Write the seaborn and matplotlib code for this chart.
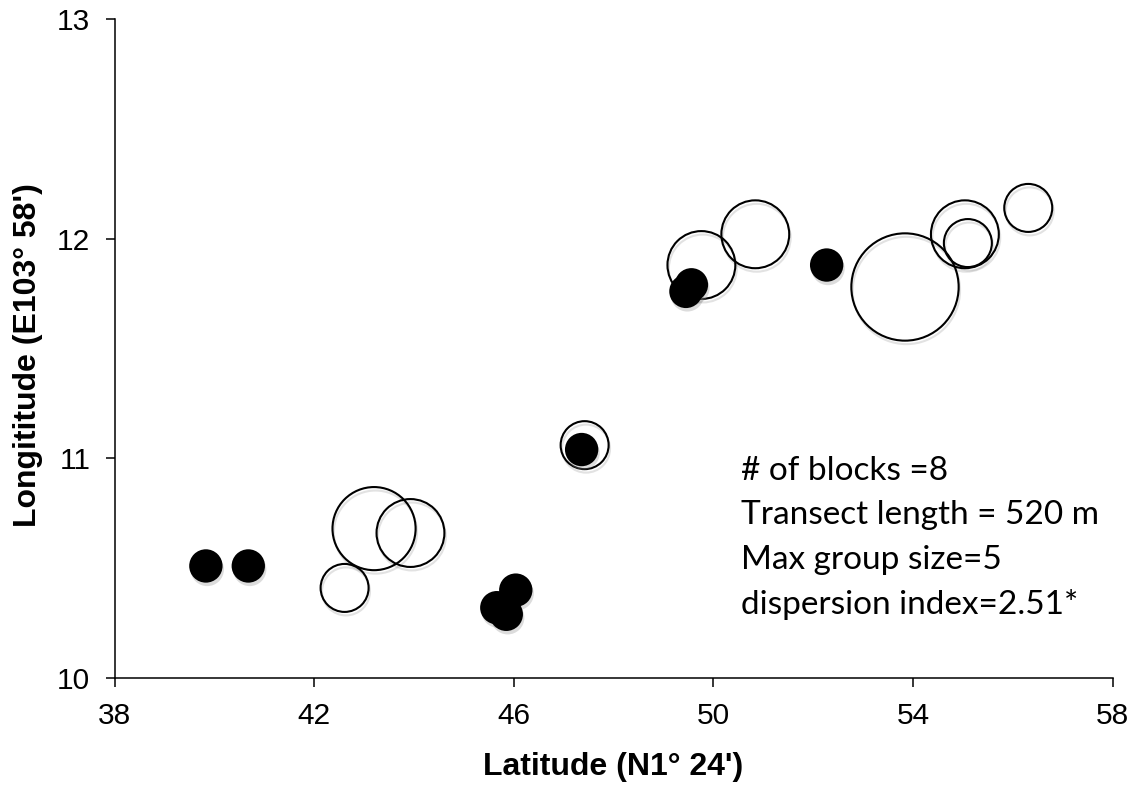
import matplotlib
matplotlib.use("Agg")
import matplotlib.pyplot as plt
import matplotlib.patheffects as pe
import pandas as pd
import seaborn as sns

# Group sightings (open circles, area proportional to group size)
group_lat = [42.61, 43.20, 43.93, 47.42, 49.76, 50.84, 53.84, 55.04, 55.10, 56.31]
group_lon = [10.41, 10.68, 10.66, 11.06, 11.88, 12.02, 11.78, 12.02, 11.98, 12.14]
group_size = [1, 3, 2, 1, 2, 2, 5, 2, 1, 1]

# Block centres (filled circles)
block_lat = [39.83, 40.68, 45.66, 45.85, 46.04, 47.36, 49.45, 49.56, 52.27]
block_lon = [10.51, 10.51, 10.32, 10.29, 10.40, 11.04, 11.76, 11.79, 11.88]

x_ticks = [38, 42, 46, 50, 54, 58]
y_ticks = [10, 11, 12, 13]

stats_lines = [
    "# of blocks =8",
    "Transect length = 520 m",
    "Max group size=5",
    "dispersion index=2.51*",
]

groups = pd.DataFrame({"lat": group_lat, "lon": group_lon, "size": group_size})
blocks = pd.DataFrame({"lat": block_lat, "lon": block_lon})

sns.set_theme(style="white")
plt.rcParams["font.family"] = ["Liberation Sans", "DejaVu Sans"]

fig = plt.figure(figsize=(11.41, 7.89), dpi=100)
ax = fig.add_axes([0.1004, 0.1407, 0.8747, 0.8352])

sns.scatterplot(
    data=groups, x="lat", y="lon", size="size",
    sizes=(1194, 5970), size_norm=(1, 5),
    facecolor="none", edgecolor="black", linewidth=1.5,
    legend=False, ax=ax, zorder=2,
    path_effects=[pe.SimpleLineShadow(offset=(1, -2.5), shadow_color="0.55", alpha=0.25),
                  pe.Normal()],
)

sns.scatterplot(
    data=blocks, x="lat", y="lon",
    s=577, color="black", linewidth=0,
    legend=False, ax=ax, zorder=3,
    path_effects=[pe.SimplePatchShadow(offset=(1, -2.5), shadow_rgbFace="0.55", alpha=0.3),
                  pe.Normal()],
)

ax.set_xlim(38, 58)
ax.set_ylim(10, 13)
ax.set_xticks(x_ticks)
ax.set_yticks(y_ticks)

for side in ["top", "right"]:
    ax.spines[side].set_visible(False)
for side in ["left", "bottom"]:
    ax.spines[side].set_color("black")
    ax.spines[side].set_linewidth(1.1)

ax.tick_params(axis="both", which="major", direction="out", length=6.5, width=1.1,
               color="black", labelsize=21.5, labelcolor="black", pad=11,
               left=True, bottom=True)

ax.set_xlabel("Latitude (N1° 24')", fontsize=23, fontweight="bold", color="black")
ax.set_ylabel("Longititude (E103° 58')", fontsize=23, fontweight="bold", color="black")
ax.xaxis.set_label_coords(0.5, -0.113)
ax.yaxis.set_label_coords(-0.072, 0.49)

baselines = [0.3005, 0.2337, 0.1654, 0.0971]
for line, yb in zip(stats_lines, baselines):
    ax.text(0.6275, yb, line, transform=ax.transAxes, fontsize=24,
            family=["Lato", "DejaVu Sans"], color="black",
            ha="left", va="baseline")

fig.savefig("out.png", dpi=100, facecolor="white")
